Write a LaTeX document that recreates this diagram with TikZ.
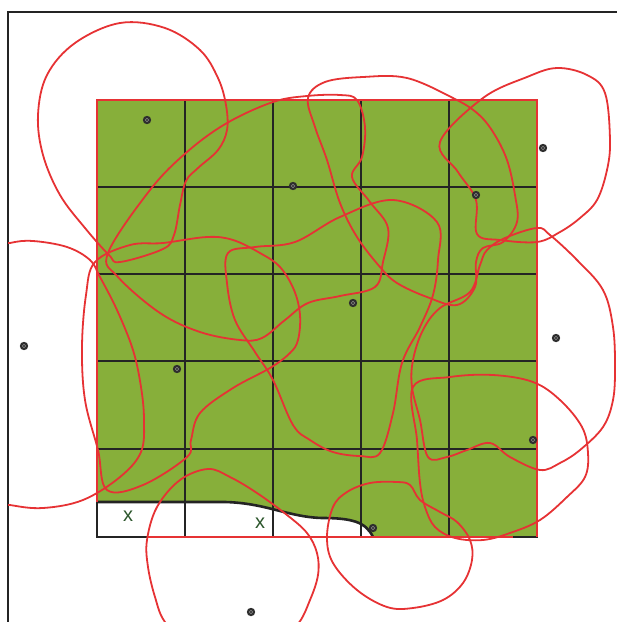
\documentclass[tikz,border=0pt]{standalone}
\usepackage{fontspec}
\setsansfont{Liberation Sans}
\usetikzlibrary{calc}

\definecolor{fieldgreen}{RGB}{135,175,58}
\definecolor{coverred}{RGB}{230,50,52}
\definecolor{gridline}{RGB}{36,36,36}
\definecolor{markgreen}{RGB}{44,86,44}

\begin{document}
\begin{tikzpicture}[
  x=0.5pt, y=-0.5pt,
  font=\sffamily,
  gridcell/.style={gridline, line width=1.3pt},
  edge/.style={coverred, line width=1.1pt},
  cover/.style={coverred, line width=0.9pt, line join=round},
  sensor/.style={circle, fill=black!82, inner sep=0pt, minimum size=4.2pt,
    path picture={\draw[black!45, line width=0.3pt] (path picture bounding box.center) circle (0.9pt);}},
  gapmark/.style={text=markgreen, inner sep=0pt, font=\sffamily\fontsize{10}{12}\selectfont}
]
\useasboundingbox (0,0) rectangle (617,622);

% Frame
\draw[gridline, line width=1.2pt] (8,622) -- (8,12) -- (617,12);

% Field (green) with uncovered part at the bottom
\fill[fieldgreen] (97,100) -- (537,100) -- (537,537) -- (373,537)
  .. controls (366,522) and (352,518) .. (322,518)
  .. controls (288,517) and (266,503) .. (225,502) -- (97,502) -- cycle;

% Grid
\foreach \gx in {185,273,361,449}
  \draw[gridcell] (\gx,100) -- (\gx,537);
\foreach \gy in {187,274,361,449}
  \draw[gridcell] (97,\gy) -- (537,\gy);
\draw[gridcell] (97,100) rectangle (537,537);
\draw[gridcell] (97,502) -- (225,502)
  .. controls (266,503) and (288,517) .. (322,518)
  .. controls (352,518) and (366,522) .. (373,537);

% Covered border of the field
\draw[edge] (97,502) -- (97,100) -- (537,100) -- (537,537);
\draw[edge] (147,537) -- (513,537);

% Coverage regions
\begin{scope}
\clip (8,12) rectangle (617,622);
% s1
\draw[cover] plot[smooth cycle, tension=0.6] coordinates {
  (38,115) (47,75) (75,43) (120,23) (165,28) (200,50) (218,78) (226,105)
  (227,130) (218,150) (198,168) (186,181) (180,205) (174,235) (163,249)
  (120,262) (109,255) (85,228) (60,195) (43,155)};
% s2
\draw[cover] plot[smooth cycle, tension=0.6] coordinates {
  (108,253) (150,190) (187,152) (227,123) (273,102) (307,96) (340,95)
  (357,100) (365,127) (362,157) (352,177) (370,202) (388,228) (383,262)
  (375,287) (340,296) (308,303) (285,320) (262,338) (240,340) (200,332)
  (160,313) (118,277)};
% s3
\draw[cover] plot[smooth cycle, tension=0.6] coordinates {
  (440,142) (483,98) (527,77) (557,68) (587,75) (605,93) (610,140)
  (607,170) (597,200) (580,218) (560,232) (537,242) (500,240) (477,234)
  (476,200) (458,172)};
% s4
\draw[cover] plot[smooth cycle, tension=0.6] coordinates {
  (308,98) (325,82) (363,77) (407,78) (453,98) (477,113) (493,132)
  (507,160) (515,195) (517,222) (503,242) (483,248) (476,262) (475,287)
  (457,305) (427,297) (397,283) (380,267) (357,237) (340,203) (327,160)
  (315,127)};
% s5
\draw[cover] plot[smooth cycle, tension=0.6] coordinates {
  (228,253) (227,283) (235,320) (255,352) (273,380) (293,425) (310,440)
  (333,452) (360,456) (380,453) (393,413) (402,363) (420,327) (433,295)
  (438,260) (437,222) (393,200) (340,217) (295,242) (255,247)};
% s6
\draw[cover] plot[smooth cycle, tension=0.6] coordinates {
  (-40,375) (-20,252) (10,243) (33,241) (67,247) (90,260) (100,277)
  (117,310) (133,350) (141,387) (144,420) (141,452) (120,477) (83,500)
  (43,508) (10,505) (-20,498)};
% s7
\draw[cover] plot[smooth cycle, tension=0.6] coordinates {
  (95,262) (130,245) (163,243) (207,237) (233,240) (260,253) (280,267)
  (294,290) (300,315) (298,340) (290,353) (270,368) (233,388) (200,413)
  (191,440) (187,457) (143,485) (107,490) (98,450) (85,400) (82,347)
  (86,295)};
% s8
\draw[cover] plot[smooth cycle, tension=0.6] coordinates {
  (537,228) (550,235) (577,260) (603,290) (613,327) (615,367) (613,400)
  (603,427) (580,450) (560,463) (540,470) (510,457) (490,443) (467,450)
  (447,457) (428,457) (420,420) (412,387) (413,360) (423,330) (440,308)
  (470,292) (480,265) (487,250) (505,238)};
% s9
\draw[cover] plot[smooth cycle, tension=0.6] coordinates {
  (413,387) (450,377) (493,375) (533,382) (560,400) (582,427) (588,453)
  (585,477) (567,497) (540,520) (510,533) (483,540) (455,538) (435,527)
  (425,507) (420,483) (417,440)};
% s10
\draw[cover] plot[smooth cycle, tension=0.6] coordinates {
  (327,537) (333,507) (347,492) (370,483) (397,482) (410,485) (420,500)
  (440,512) (457,522) (470,540) (472,560) (463,583) (443,600) (413,608)
  (387,607) (357,590) (333,563)};
% s11
\draw[cover] plot[smooth cycle, tension=0.6] coordinates {
  (147,540) (157,507) (180,480) (208,469) (230,477) (257,493) (287,515)
  (307,533) (317,553) (318,575) (310,600) (297,625) (270,645) (190,645)
  (165,622) (155,597) (148,567)};
\end{scope}

% Sensors
\node[sensor] (s1) at (147,120) {};
\node[sensor] (s2) at (293,186) {};
\node[sensor] (s3) at (543,148) {};
\node[sensor] (s4) at (476,195) {};
\node[sensor] (s5) at (353,303) {};
\node[sensor] (s6) at (24,346) {};
\node[sensor] (s7) at (177,369) {};
\node[sensor] (s8) at (556,338) {};
\node[sensor] (s9) at (533,440) {};
\node[sensor] (s10) at (373,528) {};
\node[sensor] (s11) at (251,612) {};

% Uncovered cells
\node[gapmark] (x1) at (128,516) {x};
\node[gapmark] (x2) at (260,523) {x};

\end{tikzpicture}
\end{document}
